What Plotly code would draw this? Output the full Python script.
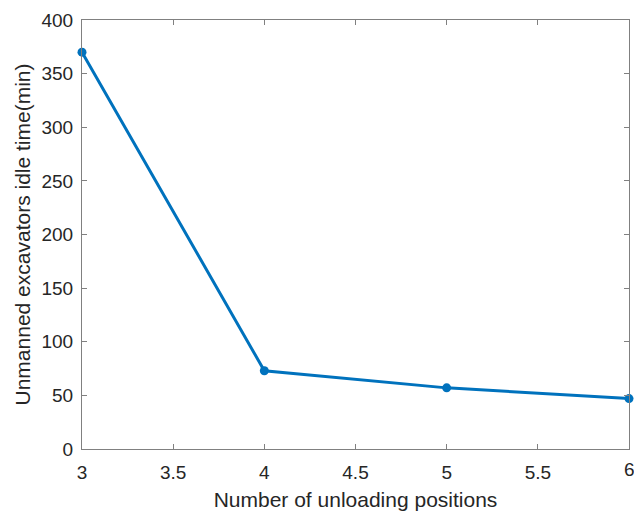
import plotly.graph_objects as go

positions = [3, 4, 5, 6]
idle_time = [370, 73, 57, 47]

x_ticks = [3, 3.5, 4, 4.5, 5, 5.5, 6]
y_ticks = [0, 50, 100, 150, 200, 250, 300, 350, 400]

FONT = "Liberation Sans, Arial, Helvetica"

def fmt(t):
    return str(t) if t % 1 else str(int(t))

fig = go.Figure()
fig.add_trace(go.Scatter(
    x=positions, y=idle_time, mode="lines+markers",
    line=dict(color="#0072BD", width=3),
    marker=dict(color="#0072BD", size=9),
    cliponaxis=False, showlegend=False,
))

axis_common = dict(
    showline=True, linecolor="#808080", linewidth=1, mirror="ticks",
    ticks="inside", ticklen=5, tickcolor="#808080", tickwidth=1,
    showgrid=False, zeroline=False, automargin=False,
    tickfont=dict(family=FONT, size=19, color="#262626"),
)

# last x tick label overflows the page edge (as in the reference); draw it as annotation
fig.update_xaxes(range=[3, 6], tickvals=x_ticks,
                 ticktext=[fmt(t) for t in x_ticks[:-1]] + [""],
                 ticklabelstandoff=6,
                 title=dict(text="Number of unloading positions",
                            font=dict(family=FONT, size=21, color="#262626"), standoff=12),
                 **axis_common)
fig.add_annotation(x=x_ticks[-1], y=0, xref="x", yref="paper", text=fmt(x_ticks[-1]),
                   showarrow=False, xanchor="center", yanchor="top", yshift=-8,
                   font=dict(family=FONT, size=19, color="#262626"))
fig.update_yaxes(range=[0, 400], tickvals=y_ticks,
                 ticklabelstandoff=4,
                 title=dict(text="Unmanned excavators idle time(min)",
                            font=dict(family=FONT, size=21, color="#262626"), standoff=5),
                 **axis_common)

fig.update_layout(
    width=634, height=511,
    margin=dict(l=82, r=5, t=20, b=62),
    paper_bgcolor="white", plot_bgcolor="white",
)

fig.write_html("out.html")
